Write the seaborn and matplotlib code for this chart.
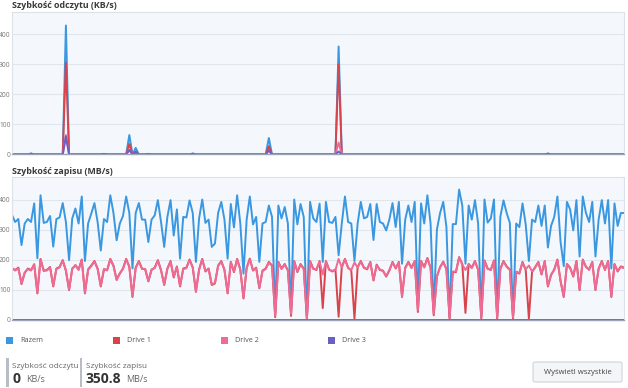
"""
Wykres szybkosci odczytu / zapisu (monitor zasobow)
"""
import numpy as np
import pandas as pd
import matplotlib
matplotlib.use('Agg')
import matplotlib.pyplot as plt
from matplotlib.patches import Rectangle, FancyBboxPatch
import seaborn as sns

# ---- dane: zapis (MB/s) ----
write_total = [
    348, 325, 335, 248, 320, 335, 325, 387, 204, 414, 322, 325, 345, 243, 335, 340, 388, 325, 198, 337,
    370, 320, 410, 195, 320, 353, 388, 325, 230, 335, 325, 414, 355,
    264, 320, 345, 410, 355, 170, 355, 388, 333, 333, 258, 333, 347, 398, 325, 242, 342, 398, 280,
    367, 203, 342, 340, 397, 355, 192, 337, 400, 322, 333, 242,
    253, 355, 392, 333, 203, 385, 307, 414, 320, 153, 333, 410, 317, 342, 192, 320, 325, 380, 342, 20,
    380, 337, 375, 320, 31, 400, 317, 385, 342, 3, 392, 337, 325,
    386, 192, 392, 325, 322, 342, 214, 320, 410, 325, 320, 195, 320, 392, 337, 342, 385, 265, 385, 325,
    320, 297, 333, 388, 308, 392, 186, 333, 380, 325, 392,
    54, 387, 320, 414, 320, 31, 300, 355, 392, 308, 9, 318, 318, 433, 380, 186, 380, 333, 398, 320,
    11, 400, 323, 337, 400, 9, 342, 397, 355, 322, 9, 320, 308,
    387, 317, 195, 333, 325, 380, 312, 380, 240, 312, 342, 410, 258, 178, 392, 367, 297, 398, 210, 410,
    355, 325, 392, 210, 333, 398, 320, 398, 170, 387, 312, 355, 355,
]
write_drive1 = [
    170, 165, 173, 118, 155, 170, 165, 183, 87, 202, 162, 165, 175, 110, 170, 175, 198, 162, 98, 170,
    180, 167, 200, 87, 167, 180, 195, 170, 110, 167, 165, 202, 180,
    133, 153, 170, 202, 175, 75, 173, 195, 170, 167, 127, 165, 173, 198, 165, 115, 170, 195, 140,
    177, 110, 170, 173, 200, 173, 92, 167, 202, 160, 170, 115,
    120, 180, 195, 165, 87, 192, 158, 202, 167, 70, 173, 203, 163, 173, 104, 163, 170, 192, 180, 8,
    192, 170, 185, 163, 12, 195, 158, 185, 170, 1, 195, 170, 165,
    195, 38, 195, 167, 160, 167, 9, 175, 202, 173, 163, 3, 175, 195, 173, 167, 192, 130, 183, 165,
    163, 143, 163, 192, 170, 192, 75, 173, 192, 173, 195,
    25, 195, 175, 205, 173, 14, 143, 175, 193, 167, 3, 158, 158, 208, 185, 22, 185, 173, 195, 165,
    4, 197, 170, 165, 197, 3, 170, 195, 177, 167, 3, 158, 153,
    192, 165, 3, 158, 175, 192, 150, 195, 110, 148, 167, 200, 127, 75, 185, 173, 143, 195, 98, 200,
    175, 167, 192, 98, 170, 195, 165, 195, 75, 185, 160, 177, 173,
]
write_drive2 = [
    172, 163, 171, 120, 157, 168, 163, 185, 89, 200, 164, 163, 173, 112, 168, 173, 196, 164, 100, 168,
    182, 165, 198, 89, 165, 178, 193, 168, 112, 169, 163, 200, 178,
    131, 155, 168, 200, 177, 77, 171, 193, 168, 169, 129, 167, 171, 196, 163, 117, 168, 193, 142,
    175, 112, 168, 171, 198, 175, 94, 165, 200, 162, 168, 117,
    122, 178, 193, 167, 89, 190, 160, 200, 165, 72, 171, 201, 165, 171, 106, 161, 168, 190, 178, 12,
    190, 168, 183, 165, 18, 193, 160, 183, 168, 2, 193, 168, 167,
    193, 150, 193, 165, 162, 165, 202, 173, 200, 171, 165, 190, 173, 193, 171, 169, 190, 132, 181, 167,
    161, 145, 165, 190, 172, 190, 77, 171, 190, 171, 193,
    30, 193, 173, 203, 171, 17, 145, 173, 191, 169, 6, 160, 160, 206, 183, 165, 183, 171, 193, 167,
    7, 195, 168, 167, 195, 6, 168, 193, 175, 165, 6, 160, 155,
    190, 167, 180, 160, 173, 190, 152, 193, 112, 150, 165, 198, 129, 77, 183, 171, 145, 193, 100, 198,
    177, 165, 190, 100, 168, 193, 167, 193, 77, 183, 162, 175, 171,
]

# ---- dane: odczyt (KB/s), same piki, reszta = 0 ----
read_idx = [6, 17, 29, 37, 39, 43, 57, 81, 103, 169]
read_total = [3, 430, 2, 65, 22, 2, 3, 55, 360, 3]
read_drive1 = [0, 305, 0, 35, 10, 0, 0, 28, 300, 0]
read_drive2 = [0, 65, 0, 15, 5, 0, 0, 12, 40, 0]
read_drive3 = [3, 60, 2, 15, 7, 2, 3, 15, 10, 3]

series_names = ['Razem', 'Drive 1', 'Drive 2', 'Drive 3']
colors = ['#3a97e0', '#d9434c', '#ee6b95', '#6a5fc2']

n = len(write_total)
t = np.arange(n)


def spread(idx, vals):
    arr = np.zeros(n)
    arr[idx] = vals
    return arr


read_df = pd.DataFrame({
    't': t,
    'Razem': spread(read_idx, read_total),
    'Drive 1': spread(read_idx, read_drive1),
    'Drive 2': spread(read_idx, read_drive2),
    'Drive 3': spread(read_idx, read_drive3),
})
write_df = pd.DataFrame({
    't': t,
    'Razem': write_total,
    'Drive 1': write_drive1,
    'Drive 2': write_drive2,
    'Drive 3': np.zeros(n),
})

sns.set_style('white')
plt.rcParams['font.family'] = ['Open Sans', 'DejaVu Sans']

fig = plt.figure(figsize=(6.28, 3.88), dpi=100)
W, H = 628, 388


def px_axes(left, top, right, bottom):
    return fig.add_axes([left / W, 1 - bottom / H, (right - left) / W, (bottom - top) / H])


ax_read = px_axes(12, 12, 624, 154.5)
ax_write = px_axes(12, 177, 624, 319.5)

for ax, df in [(ax_read, read_df), (ax_write, write_df)]:
    ax.set_facecolor('#f4f8fc')
    for name, c in zip(series_names, colors):
        sns.lineplot(data=df, x='t', y=name, color=c, lw=1.4, ax=ax, legend=False)
    ax.set_xlim(0, n - 1)
    ax.set_ylim(0, 475)
    ax.set_yticks([0, 100, 200, 300, 400])
    ax.yaxis.grid(True, color='#dfe6ee', lw=0.8)
    ax.set_axisbelow(True)
    ax.set_xticks([])
    ax.set_xlabel('')
    ax.set_ylabel('')
    ax.tick_params(axis='y', length=0, pad=1, labelsize=4.8, labelcolor='#777777')
    for s in ['top', 'right', 'left']:
        ax.spines[s].set_color('#dde2e8')
        ax.spines[s].set_linewidth(0.8)
    ax.spines['bottom'].set_color('#9aa3b8')
    ax.spines['bottom'].set_linewidth(1.0)

fig.text(12 / W, 1 - 6 / H, 'Szybkość odczytu (KB/s)', fontsize=6.4, fontweight='bold',
         color='#3a3a3a', va='center')
fig.text(12 / W, 1 - 171 / H, 'Szybkość zapisu (MB/s)', fontsize=6.4, fontweight='bold',
         color='#3a3a3a', va='center')

# legenda
leg_x = [6, 113, 221, 328]
for x0, name, c in zip(leg_x, series_names, colors):
    fig.patches.append(Rectangle((x0 / W, 1 - 343.5 / H), 7 / W, 7 / H, transform=fig.transFigure,
                                 color=c, lw=0))
    fig.text((x0 + 14) / W, 1 - 340 / H, name, fontsize=5.2, color='#555555', va='center')

# panel dolny
for x0 in [6, 79.5]:
    fig.patches.append(Rectangle((x0 / W, 1 - 387 / H), 2.5 / W, 29 / H, transform=fig.transFigure,
                                 color='#b9bec6', lw=0))
fig.text(12.5 / W, 1 - 366 / H, 'Szybkość odczytu', fontsize=5.9, color='#666666', va='center')
fig.text(86 / W, 1 - 366 / H, 'Szybkość zapisu', fontsize=5.9, color='#666666', va='center')
fig.text(12.5 / W, 1 - 379 / H, '0', fontsize=10, fontweight='bold', color='#333333', va='center')
fig.text(26 / W, 1 - 379.5 / H, 'KB/s', fontsize=6.5, color='#666666', va='center')
fig.text(86 / W, 1 - 379 / H, '350.8', fontsize=10, fontweight='bold', color='#333333', va='center')
fig.text(126 / W, 1 - 379.5 / H, 'MB/s', fontsize=6.5, color='#666666', va='center')

fig.patches.append(FancyBboxPatch((533 / W, 1 - 382 / H), 89 / W, 20 / H,
                                  boxstyle='round,pad=0,rounding_size=0.004',
                                  transform=fig.transFigure, facecolor='#f3f5f7',
                                  edgecolor='#cfd4da', lw=0.8))
fig.text(577.5 / W, 1 - 372 / H, 'Wyświetl wszystkie', fontsize=5.6, color='#444444',
         va='center', ha='center')

plt.savefig('out.png', dpi=100)
